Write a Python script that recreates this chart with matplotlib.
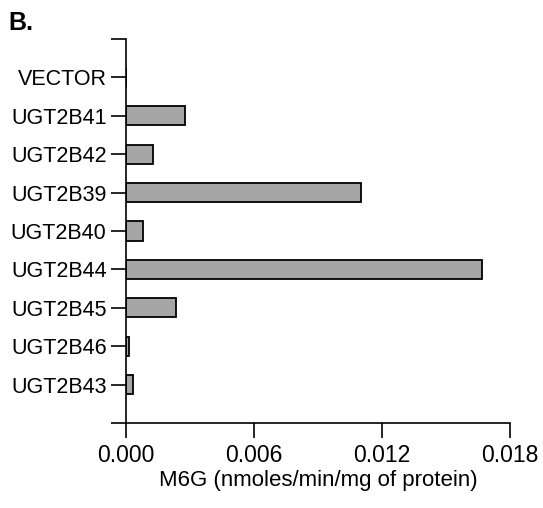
import matplotlib
matplotlib.use("Agg")
import matplotlib.pyplot as plt

categories = ["VECTOR", "UGT2B41", "UGT2B42", "UGT2B39", "UGT2B40",
              "UGT2B44", "UGT2B45", "UGT2B46", "UGT2B43"]
values = [0.0, 0.00275, 0.00128, 0.0110, 0.00081, 0.01667, 0.00234, 0.00016, 0.00031]
xticks = [0.000, 0.006, 0.012, 0.018]
xtick_labels = ["0.000", "0.006", "0.012", "0.018"]

plt.rcParams['font.family'] = ['Liberation Sans', 'DejaVu Sans']

fig = plt.figure(figsize=(5.43, 5.08), dpi=100)
ax = fig.add_axes([126/543, 1-423/508, 384/543, 384/508])

pos = list(range(len(categories)))
ax.barh(pos, values, height=0.5, color="#a6a6a6", edgecolor="black", linewidth=1.3)

ax.set_xlim(0, 0.018)
ax.set_ylim(len(categories), -1)
ax.set_yticks([-1] + pos + [len(categories)])
ax.set_yticklabels([""] + categories + [""], fontsize=15.5)
ax.set_xticks(xticks)
ax.set_xticklabels(xtick_labels, fontsize=16.5)
ax.set_xlabel("M6G (nmoles/min/mg of protein)", fontsize=16, labelpad=2)

for s in ["top", "right"]:
    ax.spines[s].set_visible(False)
for s in ["left", "bottom"]:
    ax.spines[s].set_linewidth(1.2)
ax.tick_params(axis="both", length=11, width=1.2)
ax.tick_params(axis="x", pad=4)
ax.tick_params(axis="y", pad=3)

fig.text(8/543, 1-30/508, "B.", fontsize=18, fontweight="bold")

fig.savefig("out.png", dpi=100)
